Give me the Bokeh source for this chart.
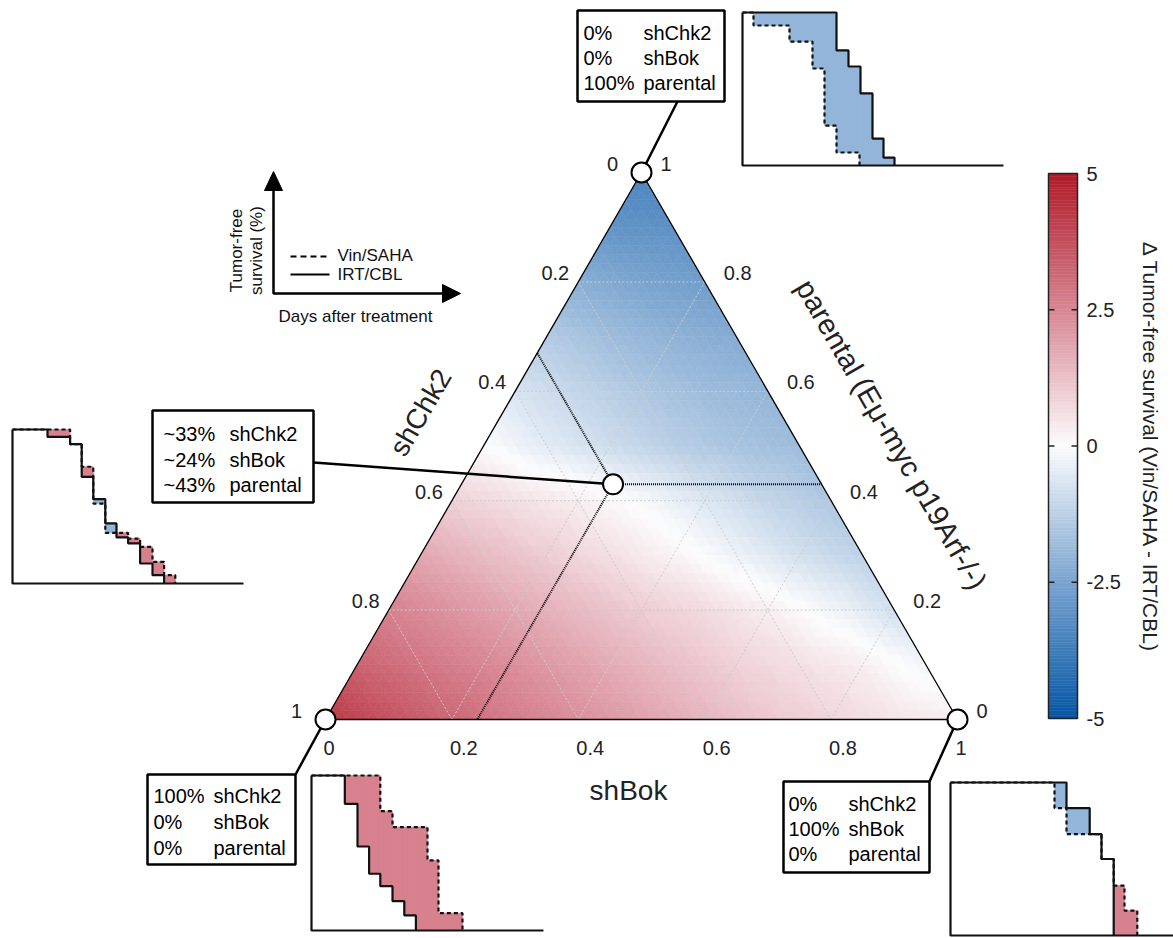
import math
from bokeh.plotting import figure
from bokeh.models import Range1d, ColumnDataSource
from bokeh.transform import linear_cmap
from bokeh.core.properties import value
from bokeh.embed import file_html
from bokeh.resources import INLINE

FONT = value("Liberation Sans")

# ---------------- data ----------------
tick_values = [0.0, 0.2, 0.4, 0.6, 0.8, 1.0]
tick_labels = ["0", "0.2", "0.4", "0.6", "0.8", "1"]
title_shchk2 = "shChk2"
title_shbok = "shBok"
title_parental = "parental (Eμ-myc p19Arf-/-)"

# Δ tumor-free survival read at grid nodes (step 0.1); one list per parental fraction,
# each listed from shBok = 0 (left edge) to shBok max (right edge)
delta_par_10 = [-3.5]
delta_par_09 = [-3.0, -3.1]
delta_par_08 = [-2.2, -2.5, -2.7]
delta_par_07 = [-1.4, -1.8, -2.1, -2.3]
delta_par_06 = [-0.7, -1.1, -1.5, -1.8, -2.0]
delta_par_05 = [0.0, -0.5, -0.9, -1.3, -1.6, -1.8]
delta_par_04 = [0.9, 0.6, 0.3, -0.1, -0.6, -1.1, -1.5]
delta_par_03 = [1.8, 1.4, 1.0, 0.6, 0.2, -0.3, -0.8, -1.2]
delta_par_02 = [2.6, 2.2, 1.8, 1.4, 1.0, 0.7, 0.3, -0.2, -0.8]
delta_par_01 = [3.3, 2.9, 2.5, 2.1, 1.7, 1.3, 0.9, 0.6, 0.3, -0.2]
delta_par_00 = [4.3, 3.7, 3.2, 2.7, 2.3, 1.9, 1.5, 1.1, 0.8, 0.5, 0.3]

cbar_ticks = [-5, -2.5, 0, 2.5, 5]
cbar_labels = ["-5", "-2.5", "0", "2.5", "5"]
cbar_title = "Δ Tumor-free survival (Vin/SAHA - IRT/CBL)"

mix_names = ["shChk2", "shBok", "parental"]
mix_parental = [0.0, 0.0, 1.0]
mix_middle = [0.33, 0.24, 0.43]
mix_shchk2 = [1.0, 0.0, 0.0]
mix_shbok = [0.0, 1.0, 0.0]
pct_parental = ["0%", "0%", "100%"]
pct_middle = ["~33%", "~24%", "~43%"]
pct_shchk2 = ["100%", "0%", "0%"]
pct_shbok = ["0%", "100%", "0%"]

# survival curves (days of each drop, survival % levels)
par_irt_t = [23.5, 26.5, 29.5, 32.5, 35.25, 38.0]
par_irt_s = [100, 75.2, 64.7, 47.1, 17.6, 5.2, 0]
par_vin_t = [2.75, 11.75, 17.5, 20.5, 23.5, 29.25]
par_vin_s = [100, 91.5, 81.0, 63.4, 26.1, 8.5, 0]

mid_irt_t = [8.75, 14.4, 17.3, 20.2, 23.2, 26.0, 28.9, 31.9, 35.0, 37.9]
mid_irt_s = [100, 95.2, 90.5, 69.3, 54.8, 39.0, 29.9, 26.0, 13.0, 5.4, 0]
mid_vin_t = [14.4, 17.3, 20.2, 23.2, 28.9, 31.9, 35.0, 37.9, 40.7]
mid_vin_s = [100, 90.5, 75.8, 51.9, 32.9, 29.2, 23.8, 14.1, 5.4, 0]

chk_irt_t = [8.33, 11.5, 14.4, 17.2, 20.25, 23.2, 26.1]
chk_irt_s = [100, 81.7, 54.2, 36.6, 28.6, 18.9, 9.7, 0]
chk_vin_t = [17.2, 20.25, 29.0, 31.75, 37.75]
chk_vin_s = [100, 77.0, 66.7, 45.2, 11.2, 0]

bok_irt_t = [29.0, 34.8, 37.75, 40.8]
bok_irt_s = [100, 83.3, 66.3, 50.0, 0]
bok_vin_t = [26.0, 29.0, 37.75, 40.8, 43.5, 46.7]
bok_vin_s = [100, 83.3, 66.3, 50.0, 32.6, 16.3, 0]

legend_labels = ["Vin/SAHA", "IRT/CBL"]

# ---------------- layout ----------------
W, H = 1173, 938
T = (641.0, 172.0)
BL = (325.0, 719.0)
BR = (957.0, 719.0)
DAY_PX = 4.0

def tern(c, b, p):
    x = c * BL[0] + b * BR[0] + p * T[0]
    y = c * BL[1] + b * BR[1] + p * T[1]
    return x, -y

def hexc(r, g, b):
    return "#%02x%02x%02x" % (int(round(r)), int(round(g)), int(round(b)))

stops = [(-5, (6, 86, 164)), (-2.5, (122, 164, 207)), (0, (252, 252, 253)),
         (2.5, (216, 134, 148)), (5, (176, 27, 40))]
palette = []
n_pal = 256
for k in range(n_pal):
    v = -5 + 10 * k / (n_pal - 1)
    for (v0, c0), (v1, c1) in zip(stops[:-1], stops[1:]):
        if v0 <= v <= v1:
            f = (v - v0) / (v1 - v0)
            palette.append(hexc(*[a + (b - a) * f for a, b in zip(c0, c1)]))
            break

p = figure(width=W, height=H, output_backend="svg", toolbar_location=None,
           x_range=Range1d(0, W), y_range=Range1d(-H, 0),
           x_axis_type=None, y_axis_type=None, min_border=0)
p.outline_line_color = None
p.xgrid.visible = False
p.ygrid.visible = False

# ---------------- ternary field ----------------
rows = [delta_par_10, delta_par_09, delta_par_08, delta_par_07, delta_par_06, delta_par_05,
        delta_par_04, delta_par_03, delta_par_02, delta_par_01, delta_par_00]

def node(i, j):
    return rows[i + j][j]

def field(c, b):
    u, v = 10 * c, 10 * b
    i, j = int(u), int(v)
    fu, fv = u - i, v - j
    if fu + fv <= 1:
        return node(i, j) * (1 - fu - fv) + node(i + 1, j) * fu + node(i, j + 1) * fv
    return node(i + 1, j + 1) * (fu + fv - 1) + node(i + 1, j) * (1 - fv) + node(i, j + 1) * (1 - fu)

N = 60
txs, tys, tvals = [], [], []
def add_tri(nodes):
    xs, ys, cs, bs = [], [], [], []
    for (i, j) in nodes:
        c, b = i / N, j / N
        x, y = tern(c, b, 1 - c - b)
        xs.append(x); ys.append(y); cs.append(c); bs.append(b)
    txs.append(xs); tys.append(ys)
    tvals.append(field(sum(cs) / 3, sum(bs) / 3))

for i in range(N):
    for j in range(N - i):
        add_tri([(i, j), (i + 1, j), (i, j + 1)])
        if i + j <= N - 2:
            add_tri([(i + 1, j), (i, j + 1), (i + 1, j + 1)])

cmap = linear_cmap("val", palette, -5, 5)
p.patches("xs", "ys", source=ColumnDataSource(dict(xs=txs, ys=tys, val=tvals)),
          fill_color=cmap, line_color=cmap, line_width=0.6)

# grid lines
gx, gy = [], []
for v in tick_values[1:-1]:
    for a, b in [((v, 0, 1 - v), (v, 1 - v, 0)), ((0, v, 1 - v), (1 - v, v, 0)),
                 ((1 - v, 0, v), (0, 1 - v, v))]:
        x0, y0 = tern(*a); x1, y1 = tern(*b)
        gx.append([x0, x1]); gy.append([y0, y1])
p.multi_line(gx, gy, line_color="#cccccc", line_dash="2 2", line_width=1)

# outline
ox = [tern(0, 0, 1)[0], tern(1, 0, 0)[0], tern(0, 1, 0)[0]]
oy = [tern(0, 0, 1)[1], tern(1, 0, 0)[1], tern(0, 1, 0)[1]]
p.patch(ox, oy, fill_color=None, line_color="black", line_width=1.3)

# dotted lines from mixture point
c0, b0, p0 = mix_middle
mx, my = tern(c0, b0, p0)
ends = [tern(c0, 0, 1 - c0), tern(0, 1 - p0, p0), tern(1 - b0, b0, 0)]
p.multi_line([[mx, e[0]] for e in ends], [[my, e[1]] for e in ends],
             line_color="black", line_dash="1 1", line_width=2)

# tick labels
lx, ly, lt = [], [], []
for v, t in zip(tick_values, tick_labels):
    x, y = tern(v, 0, 1 - v)
    off = -29 if v in (0.0, 1.0) else -23
    lx.append(x + off); ly.append(y + 9); lt.append(t)
p.text(lx, ly, text=lt, text_font=FONT, text_font_size="20px", text_align="center",
       text_baseline="middle", text_color="#222222")
rx, ry, bx, by = [], [], [], []
for v in tick_values:
    x, y = tern(0, 1 - v, v)
    rx.append(x + 19); ry.append(y + 9)
    x, y = tern(1 - v, v, 0)
    bx.append(x - 2); by.append(-747)
p.text(rx, ry, text=tick_labels, text_font=FONT, text_font_size="20px", text_align="left",
       text_baseline="middle", text_color="#222222")
p.text(bx, by, text=tick_labels, text_font=FONT, text_font_size="20px", text_align="left",
       text_baseline="middle", text_color="#222222")

# axis titles
p.text([628], [-790], text=[title_shbok], text_font=FONT, text_font_size="28px",
       text_align="center", text_baseline="middle", text_color="#222222")
p.text([420], [-412], text=[title_shchk2], text_font=FONT, text_font_size="28px",
       text_align="center", text_baseline="middle", angle=math.pi / 3, text_color="#222222")
p.text([891], [-434], text=[title_parental], text_font=FONT, text_font_size="29px",
       text_align="center", text_baseline="middle", angle=-math.pi / 3, text_color="#222222")

# ---------------- callouts ----------------
callouts = [
    (mix_parental, pct_parental, (577, 10, 724, 101), (677, 101), 583, 643, [32, 57, 82]),
    (mix_middle, pct_middle, (152, 410, 313, 502), (313, 462), 163, 229, [433, 459, 484]),
    (mix_shchk2, pct_shchk2, (147, 774, 295, 864), (295, 774), 153, 213, [795, 821, 847]),
    (mix_shbok, pct_shbok, (783, 781, 929, 872), (929, 781), 788, 848, [803, 828, 853]),
]
for mix, pct, box, att, xp, xn, ys in callouts:
    cx, cy = tern(*mix)
    p.line([cx, att[0]], [cy, -att[1]], line_color="black", line_width=2.5)
    p.quad(left=box[0], right=box[2], top=-box[1], bottom=-box[3], fill_color="white",
           line_color="black", line_width=2.5)
    p.text([xp] * 3, [-y for y in ys], text=pct, text_font=FONT, text_font_size="20px",
           text_align="left", text_baseline="middle", text_color="black")
    p.text([xn] * 3, [-y for y in ys], text=mix_names, text_font=FONT, text_font_size="20px",
           text_align="left", text_baseline="middle", text_color="black")

vx, vy = zip(*[tern(*m) for m in [mix_parental, mix_middle, mix_shchk2, mix_shbok]])
p.scatter(list(vx), list(vy), size=20, fill_color="white", line_color="black", line_width=2)

# ---------------- survival insets ----------------
RED, BLUE = "#d6818d", "#93b5d9"

def step_xy(times, levels):
    xs, ys = [0.0], [levels[0]]
    for t, a, b in zip(times, levels[:-1], levels[1:]):
        xs += [t, t]; ys += [a, b]
    return xs, ys

def level_at(times, levels, t):
    return levels[sum(1 for tt in times if tt <= t)]

def inset(frame, irt_t, irt_s, vin_t, vin_s):
    x0, ybase, h, w = frame
    X = lambda t: x0 + t * DAY_PX
    Y = lambda s: -(ybase - s / 100.0 * h)
    br = sorted(set([0.0] + irt_t + vin_t))
    L, R, B, Tp, C = [], [], [], [], []
    for a, b in zip(br[:-1], br[1:]):
        m = 0.5 * (a + b)
        s1 = level_at(irt_t, irt_s, m); s2 = level_at(vin_t, vin_s, m)
        if s1 != s2:
            L.append(X(a)); R.append(X(b)); B.append(Y(min(s1, s2))); Tp.append(Y(max(s1, s2)))
            C.append(RED if s2 > s1 else BLUE)
    p.quad(left=L, right=R, bottom=B, top=Tp, fill_color=C, line_color=C, line_width=0.8)
    p.line([x0, x0, x0 + w], [Y(100), Y(0), Y(0)], line_color="#111111", line_width=2.2)
    xs, ys = step_xy(irt_t, irt_s)
    p.line([X(t) for t in xs], [Y(s) for s in ys], line_color="#111111", line_width=2.2)
    xs, ys = step_xy(vin_t, vin_s)
    p.line([X(t) for t in xs], [Y(s) for s in ys], line_color="#111111", line_width=2.2,
           line_dash="4 3")

inset((742, 165, 153, 261), par_irt_t, par_irt_s, par_vin_t, par_vin_s)
inset((12, 583, 154, 231), mid_irt_t, mid_irt_s, mid_vin_t, mid_vin_s)
inset((311, 930, 155, 232), chk_irt_t, chk_irt_s, chk_vin_t, chk_vin_s)
inset((950, 935, 153, 230), bok_irt_t, bok_irt_s, bok_vin_t, bok_vin_s)

# ---------------- schematic legend ----------------
p.line([273, 273, 443], [-188, -293, -293], line_color="black", line_width=2.5)
p.patches([[264, 282, 273], [442, 442, 460]], [[-190, -190, -171], [-284, -302, -293]],
          fill_color="black", line_color="black")
p.line([290, 329], [-256, -256], line_color="black", line_width=2, line_dash="6 4")
p.line([290, 329], [-274, -274], line_color="black", line_width=2)
p.text([337, 337], [-255, -274], text=legend_labels, text_font=FONT, text_font_size="17px",
       text_align="left", text_baseline="middle", text_color="#111111")
p.text([355], [-316], text=["Days after treatment"], text_font=FONT, text_font_size="17px",
       text_align="center", text_baseline="middle", text_color="#111111")
p.text([246], [-250], text=["Tumor-free\nsurvival (%)"], text_font=FONT, text_font_size="17px",
       text_align="center", text_baseline="middle", angle=math.pi / 2, text_color="#111111",
       text_line_height=1.1)

# ---------------- colorbar ----------------
CB_L, CB_R, CB_T, CB_B = 1048, 1077, 173, 718
ncb = 200
cby = lambda v: -(CB_B - (v + 5) / 10 * (CB_B - CB_T))
cbv = [-5 + 10 * (k + 0.5) / ncb for k in range(ncb)]
cb_src = ColumnDataSource(dict(val=cbv, bottom=[cby(v - 5.0 / ncb) for v in cbv],
                               top=[cby(v + 5.0 / ncb) for v in cbv]))
p.quad(left=CB_L, right=CB_R, bottom="bottom", top="top", source=cb_src,
       fill_color=cmap, line_color=cmap, line_width=0.5)
p.quad(left=CB_L, right=CB_R, top=-CB_T, bottom=-CB_B, fill_color=None, line_color="#222222",
       line_width=1.5)
tk = [v for v in cbar_ticks if -5 < v < 5]
p.multi_line([[CB_L, CB_L + 6] for v in tk] + [[CB_R - 6, CB_R] for v in tk],
             [[cby(v), cby(v)] for v in tk] * 2, line_color="#222222", line_width=1.5)
p.text([1086] * 5, [cby(v) for v in cbar_ticks], text=cbar_labels, text_font=FONT,
       text_font_size="20px", text_align="left", text_baseline="middle", text_color="#222222")
p.text([1150], [-447], text=[cbar_title], text_font=FONT, text_font_size="21px",
       text_align="center", text_baseline="middle", angle=-math.pi / 2, text_color="#222222")

open("out.html", "w").write(file_html(p, INLINE))
